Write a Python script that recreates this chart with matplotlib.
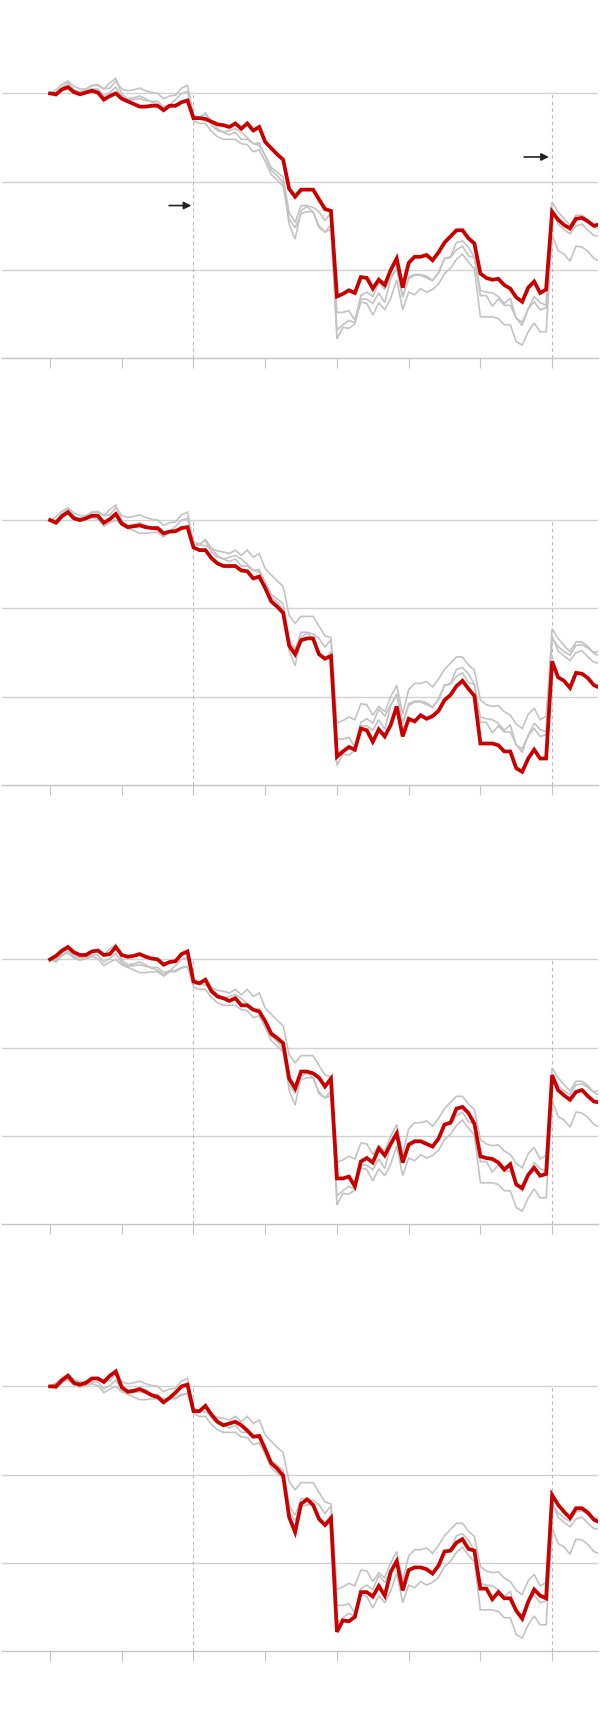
import numpy as np
import matplotlib
matplotlib.use('Agg')
import matplotlib.pyplot as plt

plt.rcParams['font.family'] = ['DejaVu Sans']

# x 轴: 每个刻度一个单位, 每单位 12 个点
x_step = 1 / 12
tick_pos = [0, 1, 2, 3, 4, 5, 6, 7]
event_pos = [2, 7]  # 虚线位置

# 四条序列 (起点 = 100)
series_a = [100.0, 99.9, 100.45, 100.7, 100.15, 99.9, 100.1, 100.3, 100.1, 99.3,
            99.7, 100.0, 99.4, 99.1, 98.8, 98.5, 98.5, 98.6, 98.6, 98.1,
            98.6, 98.6, 99.0, 99.2, 97.2, 97.2, 97.1, 96.8, 96.5, 96.4,
            96.2, 96.6, 96.0, 96.6, 95.8, 96.2, 94.5, 93.8, 93.1, 92.5,
            89.2, 88.3, 89.1, 89.1, 89.1, 88.0, 86.9, 86.7, 77.0, 77.3,
            77.7, 77.4, 79.2, 79.1, 77.9, 78.9, 78.3, 80.0, 81.3, 78.0,
            80.8, 81.5, 81.5, 81.7, 81.1, 82.0, 83.1, 83.8, 84.5, 84.5,
            83.6, 83.0, 79.6, 79.1, 78.9, 79.0, 78.3, 77.9, 76.9, 76.4,
            78.0, 78.7, 77.4, 77.8, 86.6, 85.7, 85.1, 84.7, 85.8, 85.9,
            85.5, 85.0, 85.2]

series_b = [100.0, 99.7, 100.45, 100.9, 100.2, 100.0, 100.2, 100.5, 100.5, 99.7,
            100.1, 100.7, 99.6, 99.2, 99.3, 99.4, 99.2, 99.1, 99.1, 98.5,
            98.7, 98.75, 99.1, 99.2, 96.9, 96.6, 96.6, 95.7, 95.1, 94.8,
            94.8, 94.8, 94.3, 94.2, 93.4, 93.6, 92.3, 90.8, 90.2, 89.5,
            85.8, 84.8, 86.4, 86.6, 86.6, 84.8, 84.3, 84.6, 73.2, 73.8,
            74.3, 74.0, 76.4, 76.2, 74.9, 76.3, 75.5, 76.8, 78.9, 75.5,
            77.5, 77.2, 77.9, 77.5, 77.8, 78.4, 79.6, 80.2, 81.2, 81.8,
            80.9, 80.1, 74.7, 74.7, 74.7, 74.5, 73.8, 73.8, 71.9, 71.5,
            73.0, 74.0, 73.0, 73.0, 84.0, 82.2, 81.8, 81.0, 82.7, 82.6,
            82.1, 81.3, 81.0]

series_c = [100.0, 100.4, 101.0, 101.4, 100.8, 100.5, 100.5, 100.9, 101.0, 100.5,
            100.6, 101.4, 100.5, 100.3, 100.4, 100.6, 100.3, 100.1, 100.0, 99.4,
            99.7, 99.8, 100.6, 100.9, 97.5, 97.3, 97.7, 96.4, 95.8, 95.6,
            95.3, 95.6, 94.8, 94.8, 94.3, 94.1, 93.0, 91.6, 91.1, 90.5,
            86.5, 85.4, 87.3, 87.3, 87.1, 86.6, 85.6, 86.5, 75.2, 75.2,
            75.4, 74.3, 77.1, 77.5, 77.0, 78.6, 77.8, 79.1, 80.3, 77.0,
            79.0, 79.4, 79.4, 79.1, 78.8, 79.7, 81.3, 81.5, 83.1, 83.3,
            82.6, 81.4, 77.7, 77.5, 77.4, 77.0, 76.2, 76.8, 74.5, 74.1,
            75.6, 76.4, 75.5, 75.7, 86.9, 85.2, 84.6, 84.1, 85.0, 85.2,
            84.5, 83.9, 83.8]

series_d = [100.0, 100.0, 100.7, 101.2, 100.4, 100.2, 100.4, 100.9, 100.9, 100.5,
            101.2, 101.7, 99.9, 99.4, 99.5, 99.7, 99.4, 99.0, 98.8, 98.2,
            98.7, 99.3, 100.0, 100.2, 97.2, 97.2, 97.8, 96.8, 96.0, 95.6,
            95.8, 96.0, 95.6, 95.0, 94.3, 94.4, 92.9, 91.3, 90.7, 89.9,
            85.2, 83.5, 86.7, 87.2, 86.6, 85.0, 84.3, 85.1, 72.2, 73.5,
            73.4, 73.9, 76.7, 76.7, 76.2, 77.4, 76.3, 79.0, 80.2, 76.9,
            79.2, 79.5, 79.5, 79.3, 78.8, 79.7, 81.3, 81.4, 82.3, 82.7,
            81.6, 81.4, 77.1, 77.1, 75.9, 76.7, 76.0, 76.0, 74.6, 73.7,
            75.6, 77.0, 76.3, 76.0, 87.7, 86.6, 85.8, 85.1, 86.2, 86.2,
            85.7, 84.9, 84.6]

all_series = [series_a, series_b, series_c, series_d]
grid_levels = [80, 90, 100]

W, H = 600, 1712
panel_bottoms = [358.3, 785, 1224.3, 1651.3]  # 底部轴线像素位置
px_per_unit = 8.83


def draw_panel(ax, highlight):
    x = np.arange(len(series_a)) * x_step
    ax.set_xlim(-0.67, 7.64)
    ax.set_ylim(70, 110)
    # 网格线
    for g in grid_levels:
        ax.axhline(g, color='#d2d2d2', lw=1.0, zorder=1)
    # 虚线
    for e in event_pos:
        ax.plot([e, e], [70, 100], color='#b8b8b8', lw=0.8, ls=(0, (3, 3)), zorder=1)
    # 灰色线
    for i, s in enumerate(all_series):
        if i != highlight:
            ax.plot(x, s, color='#c3c3c3', lw=1.2, zorder=2, solid_joinstyle='miter')
    # 红色线
    ax.plot(x, all_series[highlight], color='#c80000', lw=2.7, zorder=3,
            solid_joinstyle='miter')
    for side in ['top', 'right', 'left']:
        ax.spines[side].set_visible(False)
    ax.spines['bottom'].set_color('#c4c4c4')
    ax.spines['bottom'].set_linewidth(1.0)
    ax.set_xticks(tick_pos)
    ax.set_xticklabels([])
    ax.set_yticks([])
    ax.tick_params(axis='x', direction='out', length=7.5, width=0.8, color='#c4c4c4')
    ax.patch.set_visible(False)


fig = plt.figure(figsize=(W / 100, H / 100), dpi=100)
for k, b in enumerate(panel_bottoms):
    h = 40 * px_per_unit
    ax = fig.add_axes([2 / W, 1 - b / H, 596 / W, h / H])
    draw_panel(ax, k)
    if k == 0:
        # 两个箭头
        ax.annotate('', xy=(1.97, 87.3), xytext=(1.66, 87.3),
                    arrowprops=dict(arrowstyle='-|>', color='#222222', lw=1.2,
                                    mutation_scale=11, shrinkA=0, shrinkB=0))
        ax.annotate('', xy=(6.955, 92.8), xytext=(6.61, 92.8),
                    arrowprops=dict(arrowstyle='-|>', color='#222222', lw=1.2,
                                    mutation_scale=11, shrinkA=0, shrinkB=0))

fig.savefig('out.png', dpi=100, facecolor='white')
